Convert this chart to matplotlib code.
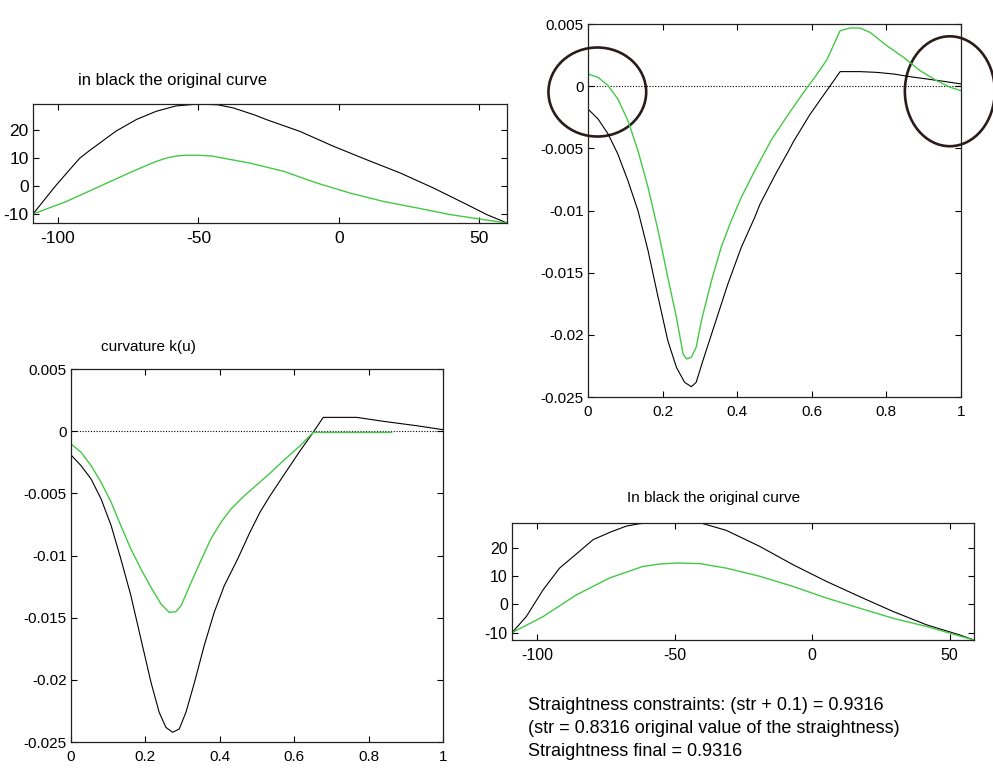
import matplotlib
matplotlib.use("Agg")
import matplotlib.pyplot as plt
from matplotlib.patches import Ellipse

plt.rcParams['font.family'] = ['Liberation Sans', 'DejaVu Sans']
plt.rcParams['axes.unicode_minus'] = False

# ---------------- data ----------------
# top-left: original (black) and modified (green) curve
tl_black_x = [-108.9, -105, -101, -96.5, -92.3, -89, -86, -82.5, -79.2, -72, -65, -58, -50, -43, -37.6, -30, -25.7, -13.8, -1.9, 9.9, 21.8, 33.7, 45.6, 52.7, 59.9]
tl_black_y = [-9.9, -5.0, 0.0, 5.2, 10.0, 12.6, 14.8, 17.4, 19.8, 23.9, 26.8, 28.7, 29.4, 29.1, 28.0, 25.5, 23.8, 19.6, 14.3, 9.5, 4.8, -0.6, -6.5, -10.1, -13.1]
tl_green_x = [-108.9, -97, -85.1, -73.3, -65, -61.4, -58, -54.8, -50, -45, -43.5, -31.7, -19.8, -7.9, 4.0, 15.9, 27.8, 39.7, 51.6, 59.9]
tl_green_y = [-9.9, -5.4, 0.0, 5.4, 8.9, 10.1, 10.8, 11.1, 11.1, 10.8, 10.5, 8.3, 5.4, 1.2, -2.4, -5.4, -7.7, -10.1, -11.9, -13.1]

# top-right: curvature
tr_u = [0.0, 0.027, 0.054, 0.080, 0.107, 0.134, 0.161, 0.188, 0.214, 0.237, 0.259, 0.277, 0.290, 0.308, 0.340, 0.375, 0.411, 0.447, 0.461, 0.492, 0.506, 0.536, 0.551, 0.595, 0.640, 0.676, 0.729, 0.774, 0.819, 0.864, 0.908, 0.953, 1.0]
tr_black = [-0.00184, -0.00264, -0.00385, -0.00546, -0.0076, -0.01001, -0.01323, -0.01698, -0.02047, -0.02261, -0.02382, -0.02417, -0.02382, -0.02208, -0.01913, -0.01591, -0.01296, -0.01055, -0.0095, -0.0077, -0.0069, -0.0053, -0.00445, -0.00228, -0.00036, 0.00117, 0.00117, 0.00111, 0.00098, 0.00076, 0.00058, 0.00039, 0.00018]
tr_gu = [0.0, 0.027, 0.054, 0.080, 0.107, 0.134, 0.161, 0.188, 0.214, 0.237, 0.255, 0.264, 0.277, 0.290, 0.304, 0.331, 0.357, 0.384, 0.411, 0.447, 0.492, 0.534, 0.578, 0.610, 0.640, 0.676, 0.702, 0.729, 0.756, 0.801, 0.846, 0.890, 0.935, 0.971, 1.0]
tr_green = [0.00098, 0.00071, 0.00004, -0.00103, -0.00277, -0.00519, -0.00814, -0.01162, -0.01538, -0.01859, -0.02154, -0.02194, -0.0218, -0.0210, -0.01886, -0.01564, -0.01296, -0.01082, -0.00894, -0.0068, -0.0043, -0.0024, -0.0005, 0.0008, 0.0021, 0.00446, 0.00468, 0.00468, 0.00433, 0.00326, 0.00232, 0.00125, 0.00044, -0.00009, -0.00036]

# bottom-left: curvature k(u)
bl_u = [0.0, 0.027, 0.054, 0.081, 0.108, 0.134, 0.161, 0.188, 0.215, 0.237, 0.255, 0.273, 0.291, 0.309, 0.332, 0.358, 0.385, 0.412, 0.448, 0.481, 0.508, 0.535, 0.571, 0.616, 0.651, 0.678, 0.768, 0.840, 0.929, 1.0]
bl_black = [-0.00192, -0.00277, -0.00385, -0.00546, -0.0076, -0.01028, -0.01323, -0.01672, -0.0202, -0.02261, -0.02382, -0.02422, -0.02395, -0.02261, -0.0202, -0.01725, -0.01457, -0.01243, -0.01028, -0.00813, -0.00652, -0.0052, -0.00358, -0.00157, -0.0001, 0.00111, 0.00111, 0.00079, 0.00044, 0.00012]
bl_gu = [0.0, 0.027, 0.054, 0.081, 0.108, 0.134, 0.161, 0.188, 0.215, 0.242, 0.264, 0.282, 0.296, 0.323, 0.349, 0.376, 0.403, 0.430, 0.466, 0.502, 0.538, 0.571, 0.616, 0.651, 0.862]
bl_green = [-0.00103, -0.0017, -0.00277, -0.00412, -0.00572, -0.0076, -0.00948, -0.01109, -0.01256, -0.0139, -0.01457, -0.01452, -0.01403, -0.01216, -0.01042, -0.00867, -0.00733, -0.00626, -0.00519, -0.00425, -0.0033, -0.00237, -0.00117, -0.0001, -0.0001]

# bottom-right: original (black) and modified (green) curve
br_black_x = [-109.1, -103.9, -97.8, -91.8, -85, -79.6, -73, -67.5, -63, -59.0, -50.0, -40.8, -31.2, -19.0, -6.9, 5.2, 17.3, 29.5, 41.6, 53.7, 58.9]
br_black_y = [-10.0, -4.3, 5.2, 12.9, 18.5, 23.0, 25.8, 27.8, 28.6, 29.0, 29.2, 29.0, 26.3, 20.6, 14.1, 8.2, 2.8, -2.5, -7.2, -10.8, -12.6]
br_green_x = [-109.1, -97.8, -85.7, -73.6, -61.5, -55, -49.0, -40.8, -31.2, -19.0, -6.9, 5.2, 17.3, 29.5, 41.6, 53.7, 58.9]
br_green_y = [-10.0, -4.3, 3.4, 9.4, 13.5, 14.4, 14.7, 14.5, 12.9, 10.0, 6.4, 2.3, -1.3, -4.9, -7.8, -11.2, -12.6]

curve_xticks = [-100, -50, 0, 50]
curve_yticks = [-10, 0, 10, 20]
k_xticks = [0, 0.2, 0.4, 0.6, 0.8, 1]
k_xlabels = ['0', '0.2', '0.4', '0.6', '0.8', '1']
k_yticks = [-0.025, -0.02, -0.015, -0.01, -0.005, 0, 0.005]
k_ylabels = ['-0.025', '-0.02', '-0.015', '-0.01', '-0.005', '0', '0.005']

title_tl = "in black the original curve"
title_bl = "curvature k(u)"
title_br = "In black the original curve"
info_lines = ["Straightness constraints: (str + 0.1) = 0.9316",
              "(str = 0.8316 original value of the straightness)",
              "Straightness final = 0.9316"]

# ---------------- figure ----------------
W, H = 993, 769
fig = plt.figure(figsize=(W / 100, H / 100), dpi=100)
fig.patch.set_facecolor('white')

def px_axes(left, top, right, bottom):
    return fig.add_axes([left / W, 1 - bottom / H, (right - left) / W, (bottom - top) / H])

GREEN = '#45c845'

def style(ax, fs):
    ax.tick_params(direction='in', top=True, right=True, length=4, width=0.8,
                   labelsize=fs, colors='black')
    ax.tick_params(axis='x', pad=6)
    ax.tick_params(axis='y', pad=3)
    for s in ax.spines.values():
        s.set_linewidth(0.9)
        s.set_color('#222222')

# top-left
ax1 = px_axes(33, 104, 507, 223)
ax1.plot(tl_black_x, tl_black_y, color='black', lw=0.8)
ax1.plot(tl_green_x, tl_green_y, color=GREEN, lw=1.0)
ax1.set_xlim(-108.9, 59.9)
ax1.set_ylim(-13.1, 29.4)
ax1.set_xticks(curve_xticks)
ax1.set_yticks(curve_yticks)
style(ax1, 12.5)
fig.text(172 / W, 1 - 80 / H, title_tl, ha='center', va='center', fontsize=12)

# top-right
ax2 = px_axes(588, 24, 961, 397)
ax2.axhline(0, color='black', lw=0.8, ls=(0, (1, 1.5)))
ax2.plot(tr_u, tr_black, color='black', lw=0.8)
ax2.plot(tr_gu, tr_green, color=GREEN, lw=1.0)
ax2.set_xlim(0, 1)
ax2.set_ylim(-0.025, 0.005)
ax2.set_xticks(k_xticks, k_xlabels)
ax2.set_yticks(k_yticks, k_ylabels)
style(ax2, 11)
for (cx, cy, w, h) in [(0.025, -0.00047, 0.262, 0.00716), (0.970, -0.00041, 0.241, 0.00884)]:
    ax2.add_patch(Ellipse((cx, cy), w, h, fill=False, ec='#2b1b1b', lw=1.9, clip_on=False))

# bottom-left
ax3 = px_axes(71, 369, 443, 742)
ax3.axhline(0, color='black', lw=0.8, ls=(0, (1, 1.5)))
ax3.plot(bl_u, bl_black, color='black', lw=0.8)
ax3.plot(bl_gu, bl_green, color=GREEN, lw=1.0)
ax3.set_xlim(0, 1)
ax3.set_ylim(-0.025, 0.005)
ax3.set_xticks(k_xticks, k_xlabels)
ax3.set_yticks(k_yticks, k_ylabels)
style(ax3, 11)
fig.text(148 / W, 1 - 347 / H, title_bl, ha='center', va='center', fontsize=11)

# bottom-right
ax4 = px_axes(512, 523, 974, 640)
ax4.plot(br_black_x, br_black_y, color='black', lw=0.8)
ax4.plot(br_green_x, br_green_y, color=GREEN, lw=1.0)
ax4.set_xlim(-109.1, 58.9)
ax4.set_ylim(-12.6, 28.9)
ax4.set_xticks(curve_xticks)
ax4.set_yticks(curve_yticks)
style(ax4, 11.5)
fig.text(714 / W, 1 - 498 / H, title_br, ha='center', va='center', fontsize=11)

for i, line in enumerate(info_lines):
    fig.text(528 / W, 1 - (706 + 22.5 * i) / H, line, ha='left', va='center', fontsize=13)

fig.savefig('out.png', dpi=100)
